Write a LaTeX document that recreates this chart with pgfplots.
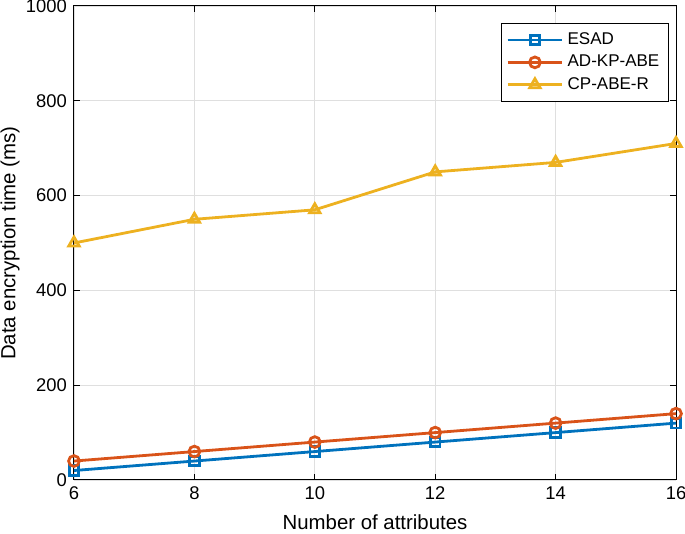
\documentclass[border=0pt]{standalone}
\usepackage{fontspec}
\setmainfont{Liberation Sans}
\usepackage{pgfplots}
\pgfplotsset{compat=1.18}

\definecolor{mblue}{rgb}{0,0.447,0.741}
\definecolor{morange}{rgb}{0.85,0.325,0.098}
\definecolor{myellow}{rgb}{0.929,0.694,0.125}

\begin{document}
\begin{tikzpicture}
\begin{axis}[
    scale only axis,
    width=301pt, height=237pt,
    xmin=6, xmax=16,
    ymin=0, ymax=1000,
    xtick={6,8,...,16},
    ytick={0,200,...,1000},
    tick align=inside,
    major tick length=3pt,
    grid=major,
    grid style={gray!25, line width=0.4pt},
    axis line style={line width=0.5pt},
    tick style={black, line width=0.5pt},
    tick label style={font=\fontsize{9.2}{11}\selectfont},
    label style={font=\fontsize{10.2}{12}\selectfont},
    /pgf/number format/assume math mode=true,
    /pgf/number format/1000 sep={},
    xlabel={Number of attributes},
    ylabel={Data encryption time (ms)},
    xlabel style={yshift=-0.5pt},
    ylabel style={at={(axis description cs:-0.106,0.5)}, anchor=center},
    legend style={at={(0.988,0.964)}, anchor=north east, draw=black,
        line width=0.5pt, font=\fontsize{8.5}{10}\selectfont,
        row sep=-0.2pt, inner sep=2.5pt},
    legend cell align=left,
    legend image code/.code={
        \draw[mark repeat=2, mark phase=2, #1]
            plot coordinates {(0cm,0cm) (0.48cm,0cm) (0.96cm,0cm)};
    },
    every axis plot/.append style={line width=1.4pt, mark size=2.4pt},
]
\addplot[mblue, mark=square] coordinates {(6,20) (8,40) (10,60) (12,80) (14,100) (16,120)};
\addlegendentry{ESAD}
\addplot[morange, mark=o, mark size=2.7pt] coordinates {(6,40) (8,60) (10,80) (12,100) (14,120) (16,140)};
\addlegendentry{AD-KP-ABE}
\addplot[myellow, mark=triangle, mark size=3pt] coordinates {(6,500) (8,550) (10,570) (12,650) (14,670) (16,710)};
\addlegendentry{CP-ABE-R}
\end{axis}
\pgfresetboundingbox
\path[use as bounding box] ([shift={(-37pt,-27pt)}]current axis.south west)
    rectangle ([shift={(4.5pt,3pt)}]current axis.north east);
\end{tikzpicture}
\end{document}
